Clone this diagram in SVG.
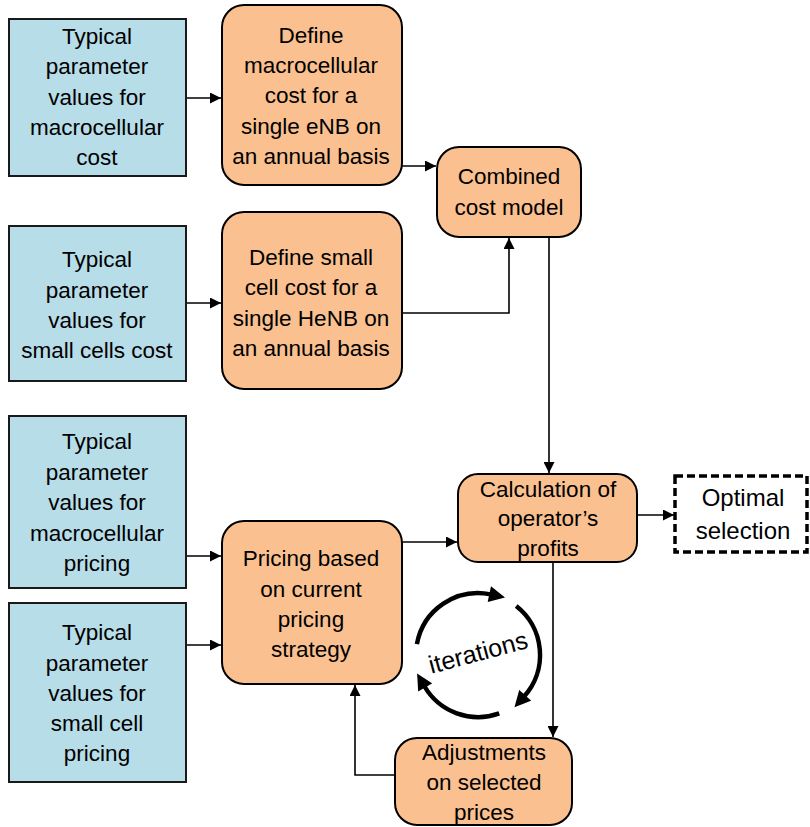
<svg xmlns="http://www.w3.org/2000/svg" width="810" height="827" viewBox="0 0 810 827">
<style>
.blue{fill:#b7dde8;stroke:#1a1a1a;stroke-width:2}
.org{fill:#fac090;stroke:#000;stroke-width:2}
.t{font-family:"Liberation Sans",Arial,sans-serif;font-size:22.5px;fill:#000;text-anchor:middle}
.c{fill:none;stroke:#000;stroke-width:1.6}
.it{fill:none;stroke:#000;stroke-width:4.5}
</style>
<defs>
<marker id="a" markerUnits="userSpaceOnUse" viewBox="0 0 10 10" markerWidth="12" markerHeight="11" refX="10" refY="5" orient="auto"><path d="M0,0 L10,5 L0,10 z" fill="#000"/></marker>
<marker id="b" markerUnits="userSpaceOnUse" viewBox="0 0 10 10" markerWidth="18" markerHeight="16" refX="1" refY="5" orient="auto"><path d="M0,0 L10,5 L0,10 z" fill="#000"/></marker>
</defs>
<rect width="810" height="827" fill="#fff"/>
<g id="connectors">
<path class="c" d="M186,98 H221" marker-end="url(#a)"/>
<path class="c" d="M401,166 H436" marker-end="url(#a)"/>
<path class="c" d="M186,303 H221" marker-end="url(#a)"/>
<path class="c" d="M401,313 H509 V238" marker-end="url(#a)"/>
<path class="c" d="M549,237 V473" marker-end="url(#a)"/>
<path class="c" d="M186,556 H221" marker-end="url(#a)"/>
<path class="c" d="M186,645 H221" marker-end="url(#a)"/>
<path class="c" d="M401,542 H457" marker-end="url(#a)"/>
<path class="c" d="M637,515 H674" marker-end="url(#a)"/>
<path class="c" d="M553,562 V737" marker-end="url(#a)"/>
<path class="c" d="M395,775 H355 V685" marker-end="url(#a)"/>
</g>
<g id="iterations">
<path class="it" d="M416.9,644.2 A62,62 0 0 1 490.9,594.4" marker-end="url(#b)"/>
<path class="it" d="M516.2,606.1 A62,62 0 0 1 524.1,696.5" marker-end="url(#b)"/>
<path class="it" d="M499.2,713.3 A62,62 0 0 1 424.3,686" marker-end="url(#b)"/>
<text class="t" style="font-size:25px" transform="rotate(-15 478 652)" x="478" y="661">iterations</text>
</g>
<g id="n1"><rect class="blue" x="9" y="19" width="177" height="157"/>
<text class="t"><tspan x="97" y="44">Typical</tspan><tspan x="97" y="74">parameter</tspan><tspan x="97" y="105">values for</tspan><tspan x="97" y="135">macrocellular</tspan><tspan x="97" y="165">cost</tspan></text></g>
<g id="n2"><rect class="org" x="222" y="5" width="180" height="180" rx="22"/>
<text class="t"><tspan x="311" y="43">Define</tspan><tspan x="311" y="73">macrocellular</tspan><tspan x="311" y="103">cost for a</tspan><tspan x="311" y="134">single eNB on</tspan><tspan x="311" y="164">an annual basis</tspan></text></g>
<g id="n3"><rect class="org" x="437" y="147" width="144" height="90" rx="22"/>
<text class="t"><tspan x="509" y="184">Combined</tspan><tspan x="509" y="215">cost model</tspan></text></g>
<g id="n4"><rect class="blue" x="9" y="226" width="177" height="155"/>
<text class="t"><tspan x="97" y="267">Typical</tspan><tspan x="97" y="298">parameter</tspan><tspan x="97" y="328">values for</tspan><tspan x="97" y="358">small cells cost</tspan></text></g>
<g id="n5"><rect class="org" x="222" y="212" width="180" height="177" rx="22"/>
<text class="t"><tspan x="311" y="265">Define small</tspan><tspan x="311" y="295">cell cost for a</tspan><tspan x="311" y="326">single HeNB on</tspan><tspan x="311" y="356">an annual basis</tspan></text></g>
<g id="n6"><rect class="blue" x="9" y="416" width="177" height="172"/>
<text class="t"><tspan x="97" y="449">Typical</tspan><tspan x="97" y="480">parameter</tspan><tspan x="97" y="510">values for</tspan><tspan x="97" y="541">macrocellular</tspan><tspan x="97" y="571">pricing</tspan></text></g>
<g id="n7"><rect class="blue" x="9" y="603" width="177" height="179"/>
<text class="t"><tspan x="97" y="640">Typical</tspan><tspan x="97" y="671">parameter</tspan><tspan x="97" y="701">values for</tspan><tspan x="97" y="731">small cell</tspan><tspan x="97" y="761">pricing</tspan></text></g>
<g id="n8"><rect class="org" x="222" y="521" width="180" height="163" rx="22"/>
<text class="t"><tspan x="311" y="566">Pricing based</tspan><tspan x="311" y="597">on current</tspan><tspan x="311" y="627">pricing</tspan><tspan x="311" y="657">strategy</tspan></text></g>
<g id="n9"><rect class="org" x="458" y="474" width="179" height="88" rx="20"/>
<text class="t"><tspan x="548" y="497">Calculation of</tspan><tspan x="548" y="526">operator’s</tspan><tspan x="548" y="556">profits</tspan></text></g>
<g id="n10"><rect x="675" y="476" width="132" height="76" fill="#fff" stroke="#000" stroke-width="3.5" stroke-dasharray="8,4"/>
<text class="t" style="font-size:24px"><tspan x="743" y="506">Optimal</tspan><tspan x="743" y="539">selection</tspan></text></g>
<g id="n11"><rect class="org" x="395" y="738" width="177" height="87" rx="22"/>
<text class="t"><tspan x="484" y="760">Adjustments</tspan><tspan x="484" y="790">on selected</tspan><tspan x="484" y="820">prices</tspan></text></g>
</svg>
